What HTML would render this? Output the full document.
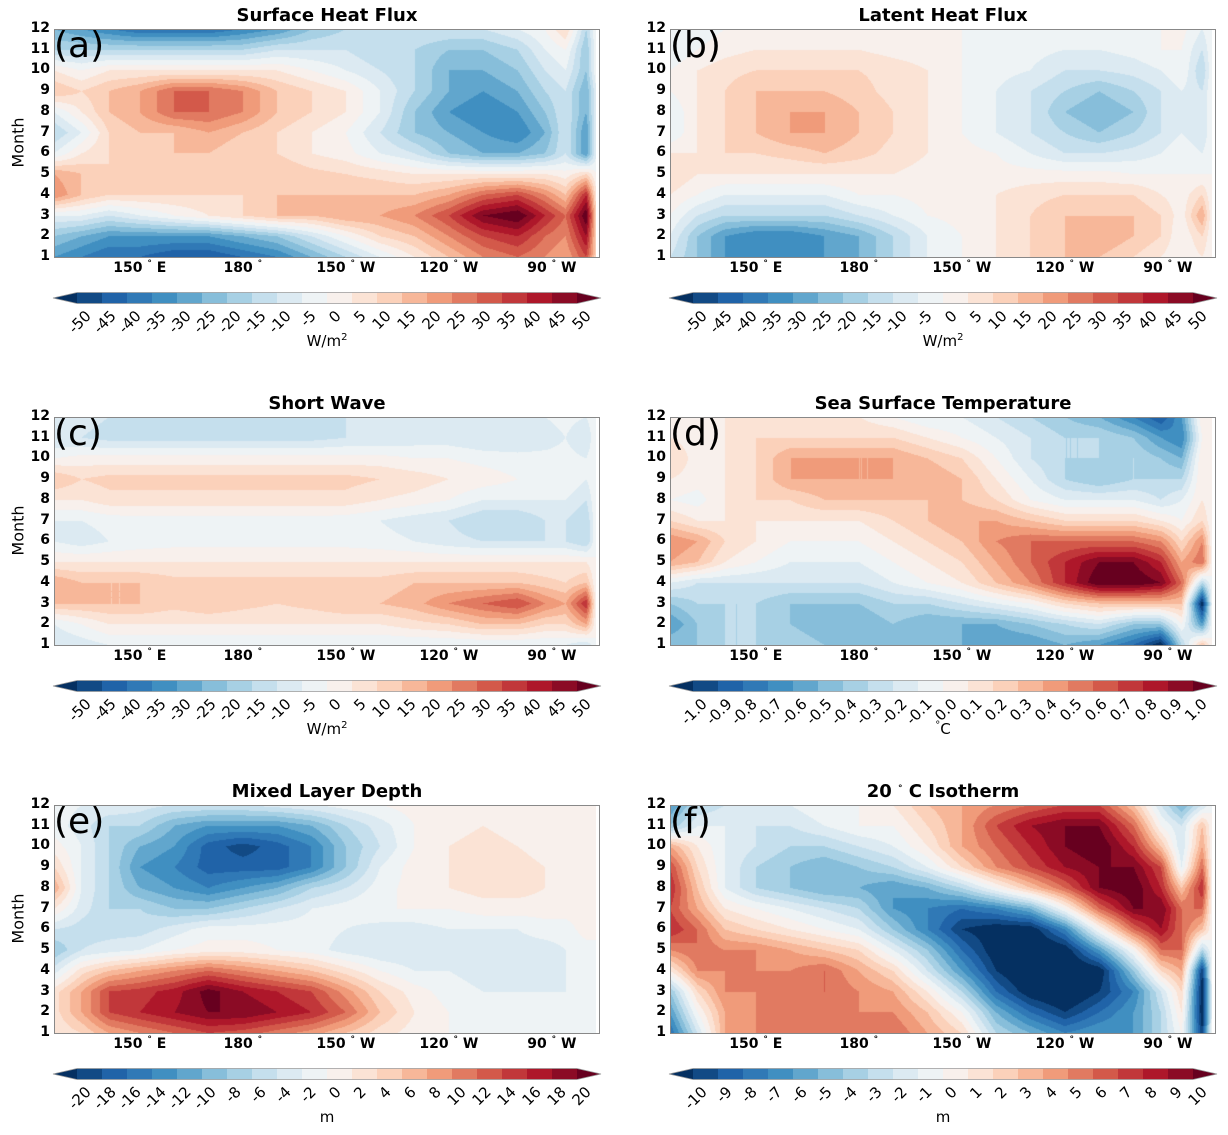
<!DOCTYPE html>
<html><head><meta charset="utf-8">
<style>
body{margin:0;background:#fff;font-family:"DejaVu Sans","Liberation Sans",sans-serif;}
#root{position:relative;width:1228px;height:1135px;overflow:hidden;}
.abs{position:absolute;}
.title{position:absolute;font-weight:bold;font-size:18px;text-align:center;width:546px;}
.yt{position:absolute;font-weight:bold;font-size:14px;width:30px;text-align:right;}
.xt{position:absolute;font-weight:bold;font-size:14px;width:90px;text-align:center;}
.xt sup,.title sup{font-size:9px;vertical-align:6px;}
.frame{position:absolute;border:1px solid #888;box-sizing:border-box;}
.letter{position:absolute;font-size:36px;font-family:"DejaVu Sans",sans-serif;}
.cbl{position:absolute;font-size:15px;transform-origin:100% 0;transform:rotate(-45deg);white-space:nowrap;}
.unit{position:absolute;font-size:15px;width:200px;text-align:center;}
.mlab{position:absolute;font-size:16px;transform:rotate(-90deg);transform-origin:center;}
</style></head><body>
<div id="root"></div>
<script>
// ---- data ----
const months=[1,2,3,4,5,6,7,8,9,10,11,12];
const lons=[125,133,141,150,160,170,180,190,200,210,220,230,240,250,260,268,274,280,283];
const shf=[
[-30,-35,-40,-40,-45,-45,-40,-35,-25,-15,-5,5,15,25,30,25,20,35,10],
[-20,-25,-30,-30,-30,-30,-25,-20,-10,0,10,15,25,35,40,30,25,45,10],
[-5,-5,-10,-5,0,5,10,15,15,20,20,25,35,50,55,40,30,55,10],
[25,15,10,10,10,10,10,15,15,15,15,15,20,30,35,25,15,40,5],
[20,15,10,10,10,12,15,15,12,10,8,5,5,5,5,5,2,10,0],
[-5,5,10,10,15,15,10,10,5,2,-5,-10,-20,-25,-25,-20,-10,-30,-5],
[-15,-5,10,15,15,20,15,10,5,0,-10,-20,-25,-30,-35,-25,-10,-30,-5],
[-5,5,15,20,30,30,25,15,10,5,-5,-20,-30,-35,-30,-20,-10,-25,-5],
[15,10,15,20,30,30,25,15,10,5,-5,-15,-25,-30,-25,-15,-10,-25,-5],
[5,0,5,5,5,5,5,5,0,-5,-10,-15,-25,-25,-20,-10,-5,-20,0],
[-15,-15,-15,-15,-15,-15,-15,-10,-10,-10,-15,-15,-20,-20,-15,-5,0,-20,0],
[-25,-30,-35,-40,-40,-40,-35,-30,-20,-15,-10,-10,-10,-10,-5,0,10,-15,0]];
const lhf=[
[-10,-20,-30,-35,-35,-30,-25,-15,-5,0,5,10,15,15,10,5,0,5,0],
[-5,-20,-30,-35,-35,-30,-25,-15,-5,0,5,10,15,20,15,10,0,10,0],
[0,-10,-15,-15,-15,-15,-10,-5,0,2,5,10,15,15,15,10,2,20,0],
[5,0,-5,-5,-5,-5,0,0,2,3,5,8,10,10,10,5,2,10,0],
[10,5,5,5,5,5,5,5,3,2,2,2,2,2,0,0,0,0,0],
[5,5,10,10,12,15,12,8,5,2,0,-5,-10,-10,-8,-5,0,-5,0],
[-5,5,10,15,20,20,15,10,5,0,-5,-10,-15,-20,-15,-10,-5,-10,0],
[-5,5,10,15,20,20,15,10,5,0,-5,-10,-20,-25,-20,-10,-5,-10,0],
[0,5,10,15,15,15,12,8,5,0,-5,-10,-15,-20,-15,-10,-5,-10,0],
[0,5,8,10,10,10,10,8,5,0,-3,-5,-10,-10,-8,-5,0,-15,0],
[-5,0,3,5,5,5,5,3,2,0,-2,-3,-5,-5,-3,0,0,-10,0],
[-5,-3,0,0,0,0,0,0,0,0,0,0,-2,-2,0,0,2,-5,0]];
const swv=[
[-10,-8,-5,-5,-5,-5,-5,-5,-5,-5,-5,-5,-5,-5,-5,-5,-5,-10,0],
[-5,0,5,5,5,5,5,5,5,5,5,8,10,15,15,10,10,20,0],
[15,15,15,15,12,15,12,10,12,15,15,18,25,30,35,25,20,40,0],
[20,15,15,15,12,12,12,12,12,12,12,15,15,15,15,12,10,15,0],
[5,5,5,5,5,5,5,5,5,5,5,5,5,5,5,5,5,5,0],
[-5,-8,-5,-3,-2,-2,-2,-2,-2,-2,-3,-5,-8,-10,-10,-10,-10,-15,0],
[-5,-5,-3,-2,-2,-2,-2,-2,-2,-3,-5,-8,-10,-15,-15,-10,-10,-15,0],
[5,5,8,8,8,8,8,8,8,8,5,3,0,-5,-5,-5,-5,-10,0],
[15,10,12,12,12,12,12,12,12,12,10,8,5,3,0,0,0,-5,0],
[0,2,2,2,2,2,2,2,2,2,2,0,0,-2,-3,-3,-3,-5,0],
[-10,-10,-12,-12,-12,-12,-12,-12,-12,-10,-10,-8,-8,-10,-10,-8,-5,-10,0],
[-5,-8,-10,-12,-12,-12,-12,-10,-10,-10,-8,-8,-10,-10,-10,-5,-3,-5,0]];
const sst=[
[-0.4,-0.4,-0.3,-0.3,-0.3,-0.4,-0.4,-0.4,-0.5,-0.5,-0.6,-0.6,-0.5,-0.6,-0.8,-1.1,-0.3,0.3,0],
[-0.6,-0.4,-0.3,-0.3,-0.4,-0.5,-0.5,-0.4,-0.5,-0.5,-0.5,-0.4,-0.3,-0.2,-0.4,-0.4,0.0,-0.6,0],
[-0.4,-0.3,-0.3,-0.3,-0.4,-0.4,-0.4,-0.3,-0.3,-0.2,-0.1,0.0,0.2,0.3,0.3,0.3,0.3,-1.1,0],
[-0.1,-0.2,-0.2,-0.2,-0.2,-0.2,-0.2,-0.1,0.0,0.1,0.3,0.5,0.8,1.1,1.1,1.0,0.6,-0.3,0],
[0.4,0.3,0.1,0.0,-0.1,-0.1,-0.1,0.0,0.1,0.2,0.4,0.6,0.8,1.0,1.0,0.8,0.4,0.6,0],
[0.5,0.4,0.2,0.1,0.0,0.0,0.0,0.1,0.2,0.3,0.5,0.6,0.6,0.6,0.6,0.5,0.2,0.5,0],
[0.2,0.1,0.1,0.1,0.1,0.1,0.1,0.2,0.3,0.4,0.4,0.3,0.2,0.2,0.2,0.1,0.0,0.2,0],
[0.0,-0.05,0.1,0.2,0.2,0.3,0.3,0.3,0.3,0.3,0.2,0.0,-0.1,-0.1,-0.1,-0.2,-0.1,0.1,0],
[0.1,0.05,0.1,0.2,0.4,0.4,0.4,0.4,0.4,0.3,0.1,-0.1,-0.3,-0.4,-0.3,-0.3,-0.3,0.1,0],
[0.2,0.05,0.1,0.2,0.4,0.4,0.4,0.4,0.3,0.2,0.0,-0.2,-0.3,-0.3,-0.3,-0.4,-0.5,0.1,0],
[0.1,0.05,0.1,0.2,0.2,0.2,0.2,0.2,0.1,0.0,-0.1,-0.2,-0.3,-0.3,-0.4,-0.6,-0.7,0.0,0],
[0.0,0.0,0.1,0.1,0.1,0.1,0.1,0.0,-0.1,-0.1,-0.2,-0.3,-0.4,-0.5,-0.7,-0.9,-0.6,0.1,0]];
const mld=[
[2,4,8,10,12,14,13,11,9,6,3,1,0,-1,-1,-2,-2,-1,0],
[3,8,14,16,18,20,20,18,16,12,6,2,0,-1,-2,-2,-2,-1,0],
[3,8,14,15,17,21,18,16,14,9,4,1,-1,-2,-2,-2,-2,-1,0],
[-3,3,6,8,10,12,10,8,6,3,0,-2,-2,-3,-3,-3,-2,-1,0],
[-8,-4,-3,-2,0,1,1,0,-1,-3,-4,-4,-3,-3,-3,-3,-2,-1,0],
[-4,-5,-5,-5,-3,-1,-1,-1,-1,-2,-3,-3,-2,-2,-2,-1,-1,1,0],
[2,-3,-6,-6,-8,-8,-6,-4,-2,-1,0,0,0,1,1,1,1,1,0],
[8,-2,-6,-10,-12,-14,-12,-10,-6,-4,-1,1,2,3,3,2,2,1,0],
[4,-2,-6,-12,-14,-17,-17,-17,-14,-8,-2,1,2,3,3,2,1,1,0],
[1,-2,-6,-10,-12,-17,-19,-17,-14,-8,-4,0,2,3,2,1,1,1,0],
[-1,-3,-6,-6,-10,-12,-12,-12,-10,-6,-3,0,1,2,1,1,1,0,0],
[-1,-2,-2,-3,-4,-4,-4,-3,-2,-1,0,1,2,2,1,1,0,0,0]];
const iso=[
[-8,-2,4,5,5,5,6,6,4,2,-3,-5,-7,-6,-6,-3,0,-10,0],
[-6,0,4,5,5,5,5,5,3,0,-5,-8,-10,-8,-6,-3,1,-11,0],
[-4,2,5,5,5,6,5,4,1,-3,-8,-11,-12,-10,-7,-2,2,-11,0],
[1,5,5,5,5,6,4,2,-2,-6,-10,-12,-12,-11,-4,2,4,-10,0],
[5,6,5,5,4,3,2,-1,-4,-8,-11,-12,-11,-6,0,6,6,-3,0],
[8,6,3,2,1,0,-1,-4,-7,-10,-11,-11,-7,0,6,9,6,3,0],
[7,4,1,0,-1,-2,-3,-6,-7,-8,-7,-5,0,6,10,10,6,6,0],
[8,3,-1,-3,-4,-5,-5,-6,-5,-3,0,3,6,10,11,8,3,8,0],
[7,2,-1,-3,-4,-5,-4,-3,-1,2,5,7,9,10,10,7,-1,6,0],
[4,1,-1,-2,-3,-3,-2,-1,1,4,6,8,10,11,8,3,-2,4,0],
[-4,-1,-1,-2,-2,-1,0,0,2,4,7,9,10,10,6,0,-2,3,0],
[-6,-3,-2,-2,-1,0,0,1,3,4,5,6,7,7,3,-2,-5,-2,0]];
const yTicks=[1,2,3,4,5,6,7,8,9,10,11,12];
const xTickLons=[150,180,210,240,270];
const xTickLabels=["150<sup>\u00b0</sup>E","180<sup>\u00b0</sup>","150<sup>\u00b0</sup>W","120<sup>\u00b0</sup>W","90<sup>\u00b0</sup>W"];
const lvlWm=["-50","-45","-40","-35","-30","-25","-20","-15","-10","-5","0","5","10","15","20","25","30","35","40","45","50"];
const lvlC=["-1.0","-0.9","-0.8","-0.7","-0.6","-0.5","-0.4","-0.3","-0.2","-0.1","0.0","0.1","0.2","0.3","0.4","0.5","0.6","0.7","0.8","0.9","1.0"];
const lvlMld=["-20","-18","-16","-14","-12","-10","-8","-6","-4","-2","0","2","4","6","8","10","12","14","16","18","20"];
const lvlIso=["-10","-9","-8","-7","-6","-5","-4","-3","-2","-1","0","1","2","3","4","5","6","7","8","9","10"];

// ---- rendering ----
const anchors=["#053061","#2166ac","#4393c3","#92c5de","#d1e5f0","#f7f7f7","#fddbc7","#f4a582","#d6604d","#b2182b","#67001f"];
function hex(h){return [parseInt(h.substr(1,2),16),parseInt(h.substr(3,2),16),parseInt(h.substr(5,2),16)];}
const A=anchors.map(hex);
function cmap(t){t=Math.max(0,Math.min(1,t))*10;const i=Math.min(9,Math.floor(t)),f=t-i;
 return [0,1,2].map(k=>Math.round(A[i][k]+(A[i+1][k]-A[i][k])*f));}
const NB=22;const COLORS=[];for(let i=0;i<NB;i++)COLORS.push(cmap(i/(NB-1)));
const root=document.getElementById('root');
function el(tag,cls,parent){const e=document.createElement(tag);if(cls)e.className=cls;(parent||root).appendChild(e);return e;}
const PW=546,PH=228;
function xOf(lon,x0){return x0+(lon-125)*103/30;}
function yOf(m,y0){return y0+PH-(m-1)*PH/11;}
function interp(grid,lon,m){
 let j=0;while(j<lons.length-2&&lon>lons[j+1])j++;
 let fx=(lon-lons[j])/(lons[j+1]-lons[j]);fx=Math.max(0,Math.min(1,fx));
 let i=Math.floor(m-1);if(i>10)i=10;if(i<0)i=0;const fy=Math.max(0,Math.min(1,(m-1)-i));
 const a=grid[i][j],b=grid[i][j+1],c=grid[i+1][j],d=grid[i+1][j+1];
 return (a*(1-fx)+b*fx)*(1-fy)+(c*(1-fx)+d*fx)*fy;}
function panel(o){
 const x0=o.x0,y0=o.y0;
 const t=el('div','title');t.style.left=x0+'px';t.style.top=(y0-24)+'px';t.innerHTML=o.title;
 
 const cw=Math.round(xOf(lons[lons.length-1],0));
 const cv=el('canvas','abs');cv.width=cw;cv.height=PH;cv.style.left=x0+'px';cv.style.top=y0+'px';
 
 const ctx=cv.getContext('2d');const img=ctx.createImageData(cw,PH);
 for(let py=0;py<PH;py++){const m=1+(PH-0.5-py)*11/PH;
  for(let px=0;px<cw;px++){const lon=125+(px+0.5)*30/103;
   const v=interp(o.data,lon,m);
   let b=Math.floor(v/o.step)+11;b=Math.max(0,Math.min(NB-1,b));
   const c=COLORS[b];const k=(py*cw+px)*4;img.data[k]=c[0];img.data[k+1]=c[1];img.data[k+2]=c[2];img.data[k+3]=255;}}
 ctx.putImageData(img,0,0);
 const f=el('div','frame');f.style.left=x0+'px';f.style.top=y0+'px';f.style.width=PW+'px';f.style.height=(PH+1)+'px';
 
 const L=el('div','letter');L.style.left=(x0+0)+'px';L.style.top=(y0-4)+'px';L.textContent=o.letter;
 
 yTicks.forEach(m=>{const d=el('div','yt');d.style.left=(x0-34)+'px';d.style.top=(yOf(m,y0)-9)+'px';d.textContent=m;
  });
 xTickLons.forEach((ln,i)=>{const d=el('div','xt');d.style.left=(xOf(ln,x0)-45)+'px';d.style.top=(y0+PH+2)+'px';d.innerHTML=xTickLabels[i].replace('<sup>',' <sup>').replace('</sup>','</sup> ');
  });
 if(o.month){const d=el('div','mlab');d.style.left=(x0-66)+'px';d.style.top=(y0+PH/2-10)+'px';d.style.width='60px';d.style.textAlign='center';d.textContent='Month';
  }
 // colorbar
 const cy=y0+PH+35,cx0=x0+23,seg=25;
 const ns='http://www.w3.org/2000/svg';
 const svg=document.createElementNS(ns,'svg');svg.setAttribute('width',PW+20);svg.setAttribute('height',14);
 svg.style.position='absolute';svg.style.left=(x0-10)+'px';svg.style.top=cy+'px';root.appendChild(svg);
 
 const ox=x0-10;
 function poly(pts,c){const p=document.createElementNS(ns,'polygon');p.setAttribute('points',pts);p.setAttribute('fill','rgb('+c.join(',')+')');svg.appendChild(p);return p;}
 const lt=poly(`${cx0-ox},0.5 ${cx0-ox},11.5 ${cx0-ox-24},6`,COLORS[0]);
 
 for(let i=0;i<20;i++){const a=cx0-ox+i*seg;const r=poly(`${a},0.5 ${a+seg},0.5 ${a+seg},11.5 ${a},11.5`,COLORS[i+1]);
  }
 const rx=cx0-ox+500;const rt=poly(`${rx},0.5 ${rx},11.5 ${rx+24},6`,COLORS[21]);
 
 const ol=document.createElementNS(ns,'polygon');ol.setAttribute('points',`${cx0-ox-24},6 ${cx0-ox},0.5 ${rx},0.5 ${rx+24},6 ${rx},11.5 ${cx0-ox},11.5`);
 ol.setAttribute('fill','none');ol.setAttribute('stroke','#999');ol.setAttribute('stroke-width','0.8');svg.appendChild(ol);
 o.levels.forEach((s,i)=>{const d=el('div','cbl');d.textContent=s;
  
  d.style.left=(cx0+i*seg-60+5)+'px';d.style.width='60px';d.style.textAlign='right';d.style.top=(cy+15)+'px';});
 const u=el('div','unit');u.style.left=(cx0+250-100)+'px';u.style.top=(cy+40)+'px';u.innerHTML=o.unit;
 
}
const W='W/m<sup style="font-size:10px">2</sup>';
panel({key:'surface-heat-flux',title:'Surface Heat Flux',letter:'(a)',x0:54,y0:29,data:shf,step:5,levels:lvlWm,unit:W,month:true});
panel({key:'latent-heat-flux',title:'Latent Heat Flux',letter:'(b)',x0:670,y0:29,data:lhf,step:5,levels:lvlWm,unit:W,month:false});
panel({key:'short-wave',title:'Short Wave',letter:'(c)',x0:54,y0:417,data:swv,step:5,levels:lvlWm,unit:W,month:true});
panel({key:'sea-surface-temperature',title:'Sea Surface Temperature',letter:'(d)',x0:670,y0:417,data:sst,step:0.1,levels:lvlC,unit:'<sup style="font-size:10px">\u00b0</sup>C',month:false});
panel({key:'mixed-layer-depth',title:'Mixed Layer Depth',letter:'(e)',x0:54,y0:805,data:mld,step:2,levels:lvlMld,unit:'m',month:true});
panel({key:'isotherm-20c',title:'20 <sup>\u00b0</sup> C Isotherm',letter:'(f)',x0:670,y0:805,data:iso,step:1,levels:lvlIso,unit:'m',month:false});
</script>
</body></html>
